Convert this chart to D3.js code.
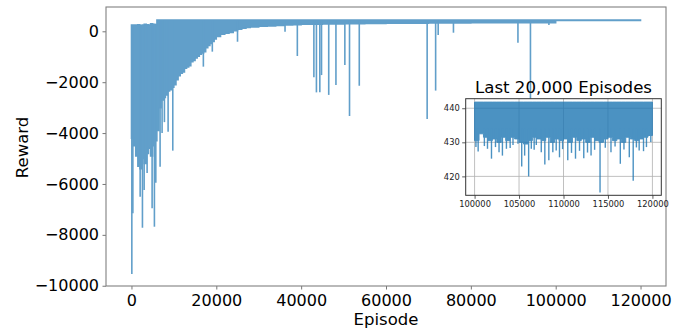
<!DOCTYPE html>
<html>
<head>
<meta charset="utf-8">
<script src="https://cdn.jsdelivr.net/npm/d3@7"></script>
<style>
  body { margin: 0; background: #fff; }
  svg { display: block; font-family: "DejaVu Sans", sans-serif; }
</style>
</head>
<body>
<div id="chart"></div>
<script>
// Episodios agrupados (inicio de cada tramo) con el techo y el piso de la banda densa
const episodeBins = [0, 500, 1000, 1500, 2000, 2500, 3000, 3500, 4000, 4500, 5000, 5500,
  6000, 6500, 7000, 7500, 8000, 8500, 9000, 9500, 10000, 10500, 11000, 11500, 12000, 12500,
  13000, 13500, 14000, 14500, 15000, 15500, 16000, 16500, 17000, 17500, 18000, 18500, 19000,
  19500, 20000, 21000, 22000, 23000, 24000, 25000, 26000, 27000, 28000, 30000, 32000, 34000,
  36000, 38000, 40000, 45000, 50000, 55000, 60000, 70000, 80000, 90000, 100000, 120000];
const rewardHigh = [250, 250, 250, 260, 230, 250, 280, 260, 250, 300, 280, 270,
  440, 440, 440, 440, 440, 440, 440, 440, 440, 440, 440, 440, 440, 440,
  440, 440, 440, 440, 440, 440, 440, 440, 440, 440, 440, 440, 440,
  440, 440, 440, 440, 440, 440, 440, 440, 440, 440, 440, 440, 440,
  440, 440, 440, 440, 440, 440, 440, 440, 440, 440, 440, 440];
const rewardLow = [-4200, -4500, -4900, -5300, -5400, -5000, -5200, -4800, -4600, -4900, -4500, -4300,
  -3900, -3000, -2700, -2600, -2500, -2350, -2300, -2200, -2100, -1900, -1750, -1650, -1600, -1450,
  -1400, -1350, -1200, -1150, -1050, -980, -900, -850, -800, -650, -560, -480, -400,
  -300, -200, -120, -80, -50, 20, 80, 120, 150, 170, 200, 210, 230,
  250, 260, 280, 290, 300, 310, 320, 330, 340, 340, 420, 420];

// Picos aislados hacia abajo
const spikeEpisodes = [90, 330, 2050, 2590, 2990, 3690, 4870, 5410, 5740, 6750, 7220, 7770,
  8640, 9740, 16950, 19060, 25000, 36200, 39100, 43000, 43600, 44400, 44800, 46500, 48200,
  50300, 51400, 53700, 69700, 71700, 72300, 75900, 91100, 94050, 98400];
const spikeRewards = [-9540, -7150, -6500, -7720, -6240, -5570, -6950, -7680, -5950, -5320, -4000, -3570,
  -3950, -4690, -1390, -800, -410, -15, -970, -1810, -2400, -2400, -1720, -2500, -2110,
  -1320, -3330, -2140, -3450, -2330, -145, -55, -450, -3000, 250];

const xTicks = [0, 20000, 40000, 60000, 80000, 100000, 120000];
const yTicks = [0, -2000, -4000, -6000, -8000, -10000];

// Ultimos 20.000 episodios
const lastBins = [100000, 100500, 101000, 101500, 102000, 102500, 103000, 103500, 104000, 104500,
  105000, 105500, 106000, 106500, 107000, 107500, 108000, 108500, 109000, 109500,
  110000, 110500, 111000, 111500, 112000, 112500, 113000, 113500, 114000, 114500,
  115000, 115500, 116000, 116500, 117000, 117500, 118000, 118500, 119000, 119500, 120000];
const lastHigh = [441.8, 441.8, 441.8, 441.8, 441.8, 441.8, 441.8, 441.8, 441.8, 441.8,
  441.8, 441.8, 441.8, 441.8, 441.8, 441.8, 441.8, 441.8, 441.8, 441.8,
  441.8, 441.8, 441.8, 441.8, 441.8, 441.8, 441.8, 441.8, 441.8, 441.8,
  441.8, 441.8, 441.8, 441.8, 441.8, 441.8, 441.8, 441.8, 441.8, 441.8, 441.8];
const lastLow = [430.5, 432.5, 431.5, 430.5, 431.0, 430.0, 431.5, 430.5, 431.5, 431.0,
  430.0, 429.5, 430.5, 431.5, 431.0, 430.5, 431.5, 430.0, 431.0, 430.5,
  431.0, 430.0, 431.5, 430.5, 431.0, 430.0, 431.5, 430.5, 430.0, 431.0,
  431.5, 430.5, 431.0, 430.0, 431.5, 431.0, 430.5, 431.0, 431.5, 432.0, 432.0];
const lastSpikeEpisodes = [100150, 100400, 101100, 101450, 101900, 102350, 102750, 103130, 103580,
  104000, 104320, 104880, 105300, 105630, 106080, 106380, 106700, 106940, 107500, 107900,
  108350, 108800, 109180, 109550, 109900, 110480, 110900, 111350, 111800, 112280, 112700,
  113100, 113500, 114110, 114700, 115340, 115800, 116390, 116800, 117400, 117840, 118200,
  118510, 119000, 119330, 119820];
const lastSpikeRewards = [428.6, 427.3, 428.9, 428.1, 425.2, 428.6, 427.1, 426.1, 428.1,
  428.3, 429.2, 429.6, 422.9, 426.1, 420.0, 428.1, 427.8, 429.2, 427.1, 423.5,
  424.7, 427.1, 427.6, 425.6, 428.0, 424.7, 426.9, 425.2, 427.5, 425.3, 427.0,
  426.1, 427.8, 415.3, 428.4, 427.1, 428.8, 423.7, 427.9, 425.6, 418.7, 428.5,
  427.6, 427.4, 428.6, 430.1];
const lastXTicks = [100000, 105000, 110000, 115000, 120000];
const lastYTicks = [420, 430, 440];

(function () {
  const WIDTH = 682
  const HEIGHT = 333
  const BLUE = '#1f77b4'

  // Area de dibujo principal
  const PLOT = { LEFT: 106, RIGHT: 666, TOP: 7, BOTTOM: 286 }
  // Area del recuadro
  const INSET = { LEFT: 465.7, RIGHT: 661.3, TOP: 98.7, BOTTOM: 195.3 }

  const svg = d3.select('#chart').append('svg')
    .attr('width', WIDTH)
    .attr('height', HEIGHT)

  const x = d3.scaleLinear().domain([-6000, 126000]).range([PLOT.LEFT, PLOT.RIGHT])
  const y = d3.scaleLinear().domain([-10010, 955]).range([PLOT.BOTTOM, PLOT.TOP])

  const rows = episodeBins.map((e, i) => ({ e, hi: rewardHigh[i], lo: rewardLow[i] }))
  // techo de la banda en el tramo donde cae cada pico
  const binOf = d3.bisector(d => d.e).right
  const topAt = ep => rows[Math.max(0, binOf(rows, ep) - 1)].hi

  const area = d3.area()
    .curve(d3.curveStepAfter)
    .x(d => x(d.e))
    .y0(d => y(d.lo))
    .y1(d => y(d.hi))

  const mainG = svg.append('g').attr('opacity', 0.7)

  mainG.append('path')
    .datum(rows)
    .attr('d', area)
    .style('fill', BLUE)
    .style('stroke', BLUE)
    .style('stroke-width', 1.5)

  mainG.selectAll('.spike')
    .data(spikeEpisodes)
    .enter()
    .append('line')
    .attr('x1', d => x(d))
    .attr('x2', d => x(d))
    .attr('y1', d => y(topAt(d)))
    .attr('y2', (d, i) => y(spikeRewards[i]))
    .style('stroke', BLUE)
    .style('stroke-width', 1.6)

  // Ejes principales
  const fmt = d3.format('d')
  const xAxis = svg.append('g')
    .attr('transform', `translate(0, ${PLOT.BOTTOM})`)
    .call(d3.axisBottom(x).tickValues(xTicks).tickFormat(fmt).tickSizeOuter(0).tickSize(3.5).tickPadding(5))
  const yAxis = svg.append('g')
    .attr('transform', `translate(${PLOT.LEFT}, 0)`)
    .call(d3.axisLeft(y).tickValues(yTicks).tickFormat(fmt).tickSizeOuter(0).tickSize(3.5).tickPadding(3.5))

  ;[xAxis, yAxis].forEach(a => {
    a.select('.domain').remove()
    a.selectAll('line').style('stroke', '#777').style('stroke-width', 1)
    a.selectAll('text').style('font-size', '16px').style('fill', '#000').style('font-family', '"DejaVu Sans"')
  })

  svg.append('rect')
    .attr('x', PLOT.LEFT).attr('y', PLOT.TOP)
    .attr('width', PLOT.RIGHT - PLOT.LEFT).attr('height', PLOT.BOTTOM - PLOT.TOP)
    .style('fill', 'none').style('stroke', '#808080').style('stroke-width', 1.1)

  svg.append('text')
    .attr('x', (PLOT.LEFT + PLOT.RIGHT) / 2)
    .attr('y', 325)
    .attr('text-anchor', 'middle')
    .style('font-size', '16.5px')
    .text('Episode')

  svg.append('text')
    .attr('transform', `translate(28, ${(PLOT.TOP + PLOT.BOTTOM) / 2 + 1}) rotate(-90)`)
    .attr('text-anchor', 'middle')
    .style('font-size', '16.5px')
    .text('Reward')

  // Recuadro con los ultimos 20.000 episodios
  const ix = d3.scaleLinear().domain([99000, 121000]).range([INSET.LEFT, INSET.RIGHT])
  const iy = d3.scaleLinear().domain([414.45, 442.8]).range([INSET.BOTTOM, INSET.TOP])

  svg.append('rect')
    .attr('x', INSET.LEFT).attr('y', INSET.TOP)
    .attr('width', INSET.RIGHT - INSET.LEFT).attr('height', INSET.BOTTOM - INSET.TOP)
    .style('fill', '#fff')

  svg.append('text')
    .attr('x', (INSET.LEFT + INSET.RIGHT) / 2)
    .attr('y', 93.3)
    .attr('text-anchor', 'middle')
    .style('font-size', '16.6px')
    .text('Last 20,000 Episodes')

  const grid = svg.append('g')
  grid.selectAll('.gx')
    .data(lastXTicks)
    .enter()
    .append('line')
    .attr('x1', d => ix(d)).attr('x2', d => ix(d))
    .attr('y1', INSET.TOP).attr('y2', INSET.BOTTOM)
    .style('stroke', '#b0b0b0').style('stroke-width', 0.8)
  grid.selectAll('.gy')
    .data(lastYTicks)
    .enter()
    .append('line')
    .attr('x1', INSET.LEFT).attr('x2', INSET.RIGHT)
    .attr('y1', d => iy(d)).attr('y2', d => iy(d))
    .style('stroke', '#b0b0b0').style('stroke-width', 0.8)

  const lastRows = lastBins.map((e, i) => ({ e, hi: lastHigh[i], lo: lastLow[i] }))
  const insetArea = d3.area()
    .curve(d3.curveStepAfter)
    .x(d => ix(d.e))
    .y0(d => iy(d.lo))
    .y1(d => iy(d.hi))

  const insetG = svg.append('g').attr('opacity', 0.8)

  insetG.append('path')
    .datum(lastRows)
    .attr('d', insetArea)
    .style('fill', BLUE)
    .style('stroke', BLUE)
    .style('stroke-width', 1)

  insetG.selectAll('.ispike')
    .data(lastSpikeEpisodes)
    .enter()
    .append('line')
    .attr('x1', d => ix(d))
    .attr('x2', d => ix(d))
    .attr('y1', iy(434))
    .attr('y2', (d, i) => iy(lastSpikeRewards[i]))
    .style('stroke', BLUE)
    .style('stroke-width', 1.4)

  const ixAxis = svg.append('g')
    .attr('transform', `translate(0, ${INSET.BOTTOM})`)
    .call(d3.axisBottom(ix).tickValues(lastXTicks).tickFormat(fmt).tickSizeOuter(0).tickSize(3.5).tickPadding(2.5))
  const iyAxis = svg.append('g')
    .attr('transform', `translate(${INSET.LEFT}, 0)`)
    .call(d3.axisLeft(iy).tickValues(lastYTicks).tickFormat(fmt).tickSizeOuter(0).tickSize(3.5).tickPadding(2.5))

  ;[ixAxis, iyAxis].forEach(a => {
    a.select('.domain').remove()
    a.selectAll('line').style('stroke', '#333').style('stroke-width', 0.8)
    a.selectAll('text').style('font-size', '8.3px').style('fill', '#222').style('font-family', '"DejaVu Sans"')
  })

  svg.append('rect')
    .attr('x', INSET.LEFT).attr('y', INSET.TOP)
    .attr('width', INSET.RIGHT - INSET.LEFT).attr('height', INSET.BOTTOM - INSET.TOP)
    .style('fill', 'none').style('stroke', '#333').style('stroke-width', 1)
})()
</script>
</body>
</html>
